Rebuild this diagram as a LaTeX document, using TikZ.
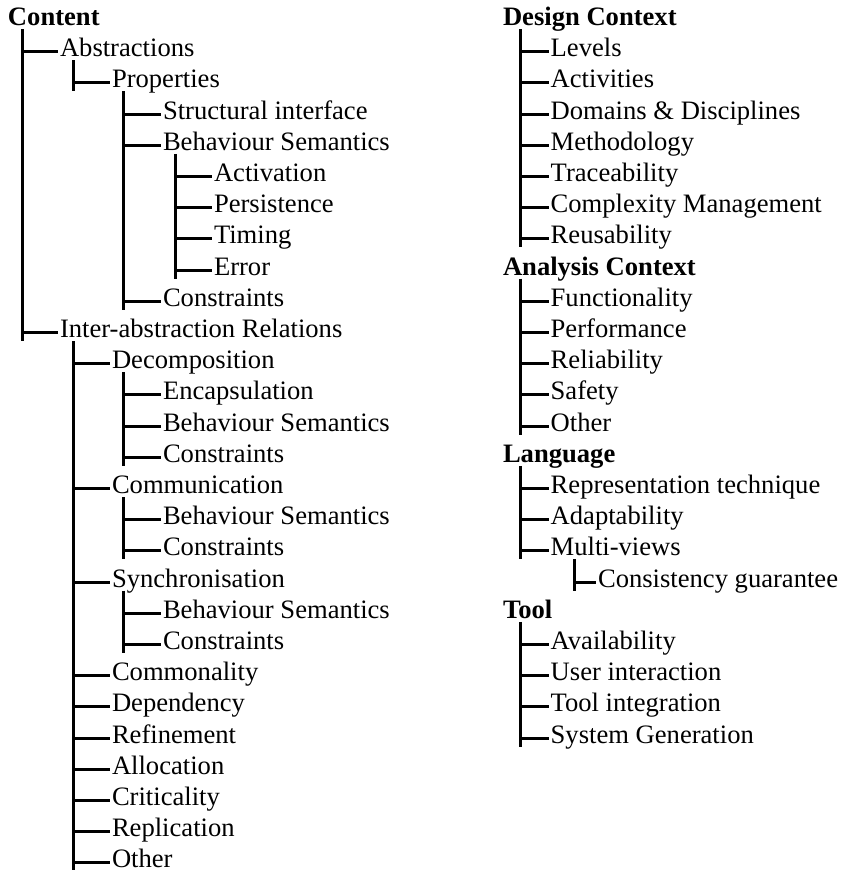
\documentclass[tikz,border=0pt]{standalone}
\usepackage{fontspec}
\setmainfont{Liberation Serif}
\usetikzlibrary{calc}

% vertical trunk below a parent, down to its last child
\newcommand\trunk[3]{\draw[conn] ($(#1 |- #2.base)+(0,-3.6pt)$) -- ($(#1 |- #3.base)+(0,-3.5pt)$);}
% horizontal twig from a trunk to a child label
\newcommand\twig[2]{\draw[conn] ($(#1 |- #2.base)+(0,5pt)$) -- ($(#2.base west)+(-2pt,5pt)$);}

\tikzset{
  item/.style={anchor=base west, inner sep=0pt, outer sep=0pt, font=\fontsize{26.6pt}{30pt}\selectfont},
  head/.style={item, font=\fontsize{26.6pt}{30pt}\selectfont\bfseries},
  conn/.style={line width=3pt, black},
}

\begin{document}
\begin{tikzpicture}[x=1pt, y=-1pt]
\useasboundingbox[fill=white] (0,0) rectangle (842,870);

\begin{scope}[yshift=3pt]
% row baselines: 28.4 + 31.2*i
% ---------------- left column ----------------
\node[head] (content) at (8,28.4) {Content};
\node[item] (abs)  at (60,59.6)  {Abstractions};
\node[item] (prop) at (112,90.8) {Properties};
\node[item] (si)   at (163,122)  {Structural interface};
\node[item] (bs)   at (163,153.2) {Behaviour Semantics};
\node[item] (act)  at (214,184.4) {Activation};
\node[item] (per)  at (214,215.6) {Persistence};
\node[item] (tim)  at (214,246.8) {Timing};
\node[item] (err)  at (214,278)   {Error};
\node[item] (pcon) at (163,309.2) {Constraints};
\node[item] (iar)  at (60,340.4)  {Inter-abstraction Relations};
\node[item] (dec)  at (112,371.6) {Decomposition};
\node[item] (enc)  at (163,402.8) {Encapsulation};
\node[item] (dbs)  at (163,434)   {Behaviour Semantics};
\node[item] (dcon) at (163,465.2) {Constraints};
\node[item] (com)  at (112,496.4) {Communication};
\node[item] (cbs)  at (163,527.6) {Behaviour Semantics};
\node[item] (ccon) at (163,558.8) {Constraints};
\node[item] (syn)  at (112,590)   {Synchronisation};
\node[item] (sbs)  at (163,621.2) {Behaviour Semantics};
\node[item] (scon) at (163,652.4) {Constraints};
\node[item] (cmn)  at (112,683.6) {Commonality};
\node[item] (dep)  at (112,714.8) {Dependency};
\node[item] (ref)  at (112,746)   {Refinement};
\node[item] (all)  at (112,777.2) {Allocation};
\node[item] (cri)  at (112,808.4) {Criticality};
\node[item] (rep)  at (112,839.6) {Replication};
\node[item] (oth)  at (112,870.8) {Other};

\coordinate (L0) at (22,0);
\coordinate (L1) at (73,0);
\coordinate (L2) at (123.5,0);
\coordinate (L3) at (175,0);

\trunk{L0}{content}{iar}
\twig{L0}{abs} \twig{L0}{iar}

\trunk{L1}{abs}{prop}
\twig{L1}{prop}

\trunk{L2}{prop}{pcon}
\twig{L2}{si} \twig{L2}{bs} \twig{L2}{pcon}

\trunk{L3}{bs}{err}
\twig{L3}{act} \twig{L3}{per} \twig{L3}{tim} \twig{L3}{err}

\trunk{L1}{iar}{oth}
\twig{L1}{dec} \twig{L1}{com} \twig{L1}{syn} \twig{L1}{cmn}
\twig{L1}{dep} \twig{L1}{ref} \twig{L1}{all} \twig{L1}{cri}
\twig{L1}{rep} \twig{L1}{oth}

\trunk{L2}{dec}{dcon}
\twig{L2}{enc} \twig{L2}{dbs} \twig{L2}{dcon}

\trunk{L2}{com}{ccon}
\twig{L2}{cbs} \twig{L2}{ccon}

\trunk{L2}{syn}{scon}
\twig{L2}{sbs} \twig{L2}{scon}

% ---------------- right column ----------------
\node[head] (dc)   at (503,28.4)  {Design Context};
\node[item] (lev)  at (550.7,59.6)  {Levels};
\node[item] (acti) at (550.7,90.8)  {Activities};
\node[item] (dom)  at (550.7,122)   {Domains \& Disciplines};
\node[item] (met)  at (550.7,153.2) {Methodology};
\node[item] (tra)  at (550.7,184.4) {Traceability};
\node[item] (cxm)  at (550.7,215.6) {Complexity Management};
\node[item] (reu)  at (550.7,246.8) {Reusability};
\node[head] (ac)   at (503,278)     {Analysis Context};
\node[item] (fun)  at (550.7,309.2) {Functionality};
\node[item] (perf) at (550.7,340.4) {Performance};
\node[item] (rel)  at (550.7,371.6) {Reliability};
\node[item] (saf)  at (550.7,402.8) {Safety};
\node[item] (aoth) at (550.7,434)   {Other};
\node[head] (lang) at (503,465.2)   {Language};
\node[item] (rt)   at (550.7,496.4) {Representation technique};
\node[item] (ada)  at (550.7,527.6) {Adaptability};
\node[item] (mv)   at (550.7,558.8) {Multi-views};
\node[item] (cg)   at (598,590)     {Consistency guarantee};
\node[head] (tool) at (503,621.2)   {Tool};
\node[item] (ava)  at (550.7,652.4) {Availability};
\node[item] (ui)   at (550.7,683.6) {User interaction};
\node[item] (ti)   at (550.7,714.8) {Tool integration};
\node[item] (sg)   at (550.7,746)   {System Generation};

\coordinate (R0) at (520,0);
\coordinate (R1) at (574,0);

\trunk{R0}{dc}{reu}
\twig{R0}{lev} \twig{R0}{acti} \twig{R0}{dom} \twig{R0}{met}
\twig{R0}{tra} \twig{R0}{cxm} \twig{R0}{reu}

\trunk{R0}{ac}{aoth}
\twig{R0}{fun} \twig{R0}{perf} \twig{R0}{rel} \twig{R0}{saf} \twig{R0}{aoth}

\trunk{R0}{lang}{mv}
\twig{R0}{rt} \twig{R0}{ada} \twig{R0}{mv}

\trunk{R1}{mv}{cg}
\twig{R1}{cg}

\trunk{R0}{tool}{sg}
\twig{R0}{ava} \twig{R0}{ui} \twig{R0}{ti} \twig{R0}{sg}
\end{scope}
\end{tikzpicture}
\end{document}
